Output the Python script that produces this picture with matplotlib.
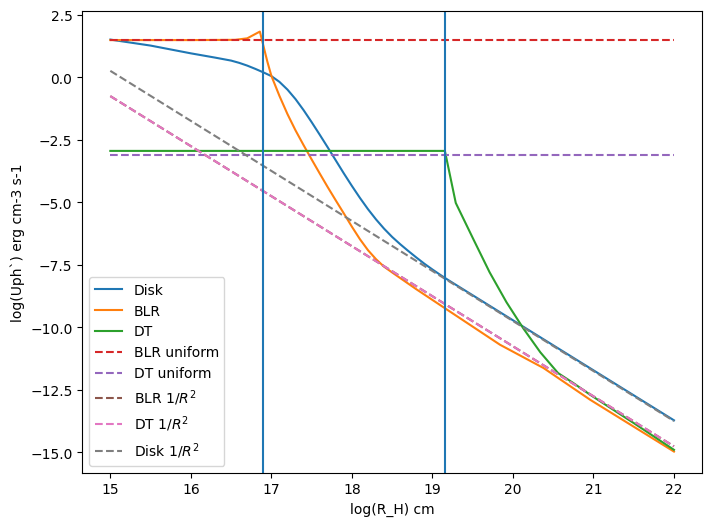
import matplotlib
matplotlib.use('Agg')
import matplotlib.pyplot as plt
import numpy as np

# radii (log cm) where the zones end
r_blr = 16.89
r_dt = 19.155

# Disk
x_disk = [15.0, 15.5, 16.0, 16.3, 16.5, 16.6, 16.7, 16.8, 16.9, 17.0, 17.1, 17.2,
          17.3, 17.4, 17.5, 17.6, 17.7, 17.8, 17.9, 18.0, 18.1, 18.2, 18.3, 18.4,
          18.5, 18.6, 18.7, 18.8, 18.9, 19.0, 19.1, 19.2, 20.0, 21.0, 22.0]
u_disk = [1.50, 1.26, 0.95, 0.78, 0.66, 0.57, 0.46, 0.33, 0.19, 0.04, -0.19, -0.50,
          -0.88, -1.32, -1.80, -2.30, -2.81, -3.33, -3.85, -4.35, -4.83, -5.28, -5.69, -6.06,
          -6.39, -6.68, -6.95, -7.21, -7.46, -7.69, -7.91, -8.12, -9.72, -11.72, -13.72]

# BLR
x_blr = [15.0, 16.0, 16.55, 16.7, 16.857, 16.95, 17.0, 17.1, 17.2, 17.3, 17.4,
         17.5, 17.6, 17.7, 17.8, 17.9, 18.0, 18.1, 18.2, 18.3, 18.4, 18.5,
         18.8, 19.09, 19.84, 20.38, 20.96, 22.0]
u_blr = [1.48, 1.48, 1.49, 1.55, 1.82, 0.62, 0.05, -0.75, -1.48, -2.13, -2.72,
         -3.29, -3.85, -4.40, -4.93, -5.45, -5.98, -6.48, -6.92, -7.28, -7.58, -7.81,
         -8.48, -9.10, -10.70, -11.63, -12.90, -14.97]

# DT
x_dt = [15.0, 19.155, 19.29, 19.51, 19.71, 19.92, 20.13, 20.34, 20.56, 20.75, 20.96,
        21.5, 22.0]
u_dt = [-2.95, -2.95, -5.03, -6.49, -7.80, -9.00, -10.05, -11.00, -11.83, -12.23,
        -12.70, -13.83, -14.90]

# uniform and 1/R^2 approximations
x_ends = [15.0, 22.0]
u_blr_uniform = [1.48, 1.48]
u_dt_uniform = [-3.13, -3.13]
u_blr_r2 = [-0.76, -14.76]
u_dt_r2 = [-0.76, -14.76]
u_disk_r2 = [0.25, -13.75]

fig = plt.figure(figsize=(8, 6), dpi=100)
ax = fig.add_subplot(111)

ax.plot(x_disk, u_disk, label='Disk')
ax.plot(x_blr, u_blr, label='BLR')
ax.plot(x_dt, u_dt, label='DT')
ax.plot(x_ends, u_blr_uniform, '--', label='BLR uniform')
ax.plot(x_ends, u_dt_uniform, '--', label='DT uniform')
ax.plot(x_ends, u_blr_r2, '--', label='BLR 1/$R^2$')
ax.plot(x_ends, u_dt_r2, '--', label='DT 1/$R^2$')
ax.plot(x_ends, u_disk_r2, '--', label='Disk 1/$R^2$')

ax.axvline(r_blr, color='C0')
ax.axvline(r_dt, color='C0')

ax.set_xlabel('log(R_H) cm')
ax.set_ylabel('log(Uph`) erg cm-3 s-1')
ax.legend(loc='lower left')

fig.savefig('out.png', bbox_inches='tight')
